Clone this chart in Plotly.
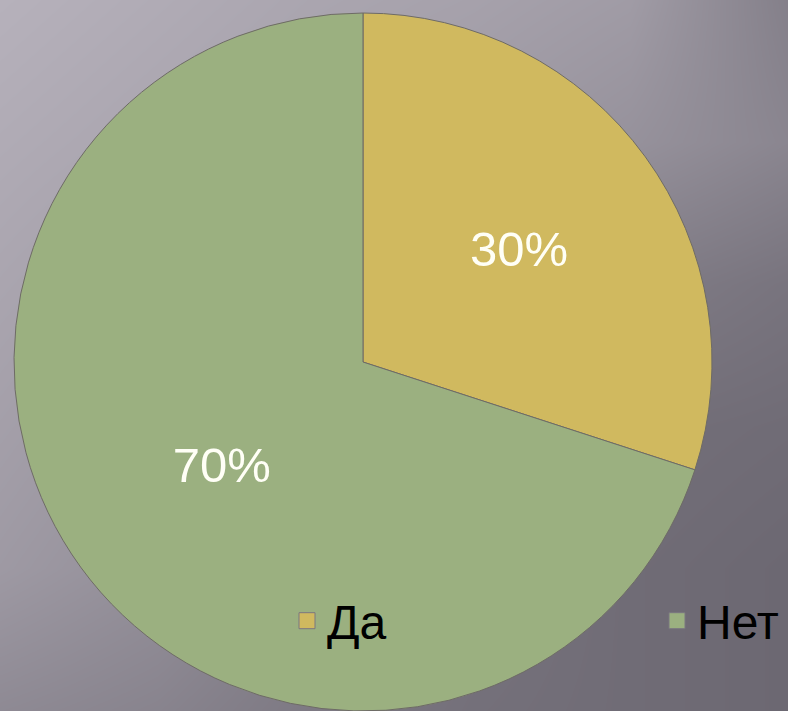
import plotly.graph_objects as go

# Data
labels = ["Да", "Нет"]
values = [30, 70]
slice_colors = ["#D0B95F", "#9BB080"]

# Background brightness samples, grid positions in px
bg_x = [0, 158, 315, 473, 630, 788]
bg_y = [0, 142, 284, 426, 568, 711]
bg_z = [
    [182, 176, 170, 166, 160, 132],
    [176, 170, 164, 158, 150, 138],
    [170, 162, 150, 140, 128, 120],
    [164, 155, 140, 125, 115, 112],
    [158, 148, 132, 120, 112, 108],
    [142, 136, 125, 116, 112, 108],
]

W, H = 788, 711
cx, cy, R = 363, 362, 349
FONT = "Liberation Sans, Arial, sans-serif"

fig = go.Figure()

fig.add_trace(go.Heatmap(
    x=bg_x, y=bg_y, z=bg_z, zsmooth="best", showscale=False, hoverinfo="skip",
    zmin=100, zmax=185, showlegend=False,
    colorscale=[[0, "rgb(100,96,106)"], [1, "rgb(185,180,190)"]],
))

fig.add_trace(go.Pie(
    labels=labels, values=values, sort=False, direction="clockwise", rotation=0,
    marker=dict(colors=slice_colors, line=dict(color="#6E6B66", width=1)),
    textinfo="percent", texttemplate="%{percent:.0%}",
    textposition="inside", insidetextorientation="horizontal",
    textfont=dict(family=FONT, size=49, color="#FFFFF6"),
    domain=dict(x=[(cx - R) / W, (cx + R) / W], y=[0, 2 * R / H]),
    hoverinfo="label+percent", showlegend=False,
))

# Legend entries (one legend per item so they can sit apart like the original)
legend_names = ["legend", "legend2"]
for lab, col, lg in zip(labels, slice_colors, legend_names):
    fig.add_trace(go.Scatter(
        x=[None], y=[None], mode="markers", name=lab, legend=lg,
        marker=dict(symbol="square", size=16, color=col,
                    line=dict(color="#7A7680", width=1)),
        hoverinfo="skip",
    ))

leg_common = dict(
    orientation="h", yanchor="middle", y=1 - 621 / H, xanchor="left",
    bgcolor="rgba(0,0,0,0)", borderwidth=0,
    font=dict(family=FONT, size=48, color="#000000"),
    itemsizing="trace",
)

fig.update_layout(
    width=W, height=H,
    margin=dict(l=0, r=0, t=0, b=0, autoexpand=False),
    paper_bgcolor="#8E8A93", plot_bgcolor="rgba(0,0,0,0)",
    xaxis=dict(range=[0, W], visible=False, domain=[0, 1], fixedrange=True),
    yaxis=dict(range=[H, 0], visible=False, domain=[0, 1], fixedrange=True),
    showlegend=True,
    legend=dict(x=287 / W, **leg_common),
    legend2=dict(x=657 / W, **leg_common),
)

fig.write_html(
    "out.html",
    config={"displayModeBar": False},
    post_script="document.body.style.margin='0';document.body.style.overflow='hidden';",
)
